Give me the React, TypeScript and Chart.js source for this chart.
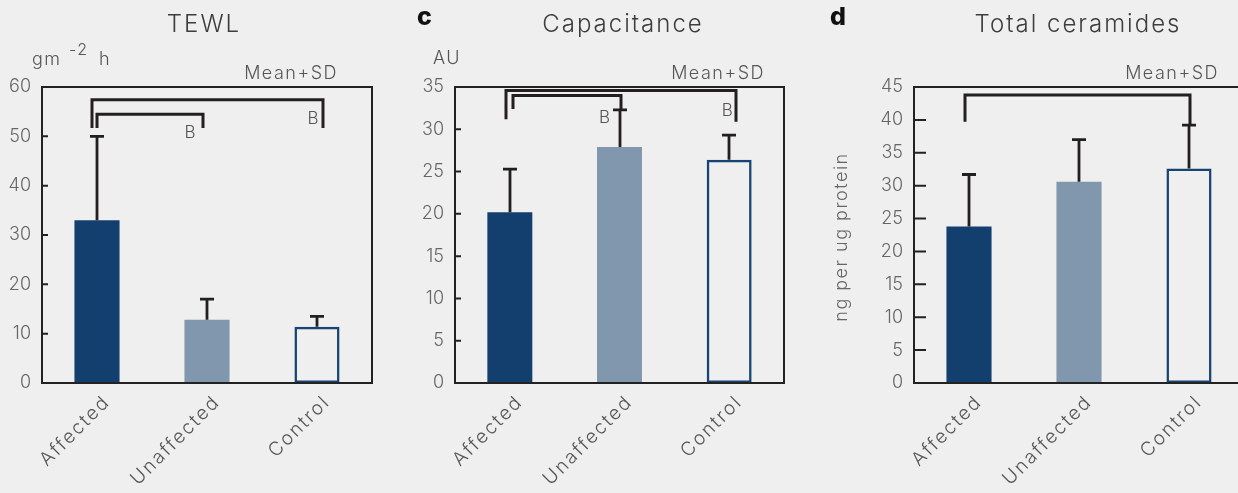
import React, { useEffect, useRef } from 'react';
import { Chart, registerables } from 'chart.js';

Chart.register(...registerables);

// ---------------- data ----------------
const categories = ['Affected', 'Unaffected', 'Control'];

const tewlMeans = [33.0, 12.8, 11.4];
const tewlSDs = [17.0, 4.2, 2.1];
const tewlAxis = { max: 60, step: 10 };

const capMeans = [20.2, 27.9, 26.4];
const capSDs = [5.1, 4.4, 2.9];
const capAxis = { max: 35, step: 5 };

const ceramideMeans = [23.8, 30.6, 32.6];
const ceramideSDs = [7.9, 6.4, 6.6];
const ceramideAxis = { max: 45, step: 5 };

// significance brackets (category indices, value levels)
const tewlBrackets = [
  { from: 0, to: 2, top: 57.4, leftEnd: 51.7, rightEnd: 51.7, dxL: -5, dxR: 6 },
  { from: 0, to: 1, top: 54.5, leftEnd: 51.7, rightEnd: 51.7, dxL: 0, dxR: -4 },
];
const capBrackets = [
  { from: 0, to: 2, top: 34.6, leftEnd: 31.2, rightEnd: 30.9, dxL: -4, dxR: 7 },
  { from: 0, to: 1, top: 34.0, leftEnd: 32.4, rightEnd: 32.3, dxL: 3, dxR: 1 },
];
const ceramideBrackets = [
  { from: 0, to: 2, top: 43.8, leftEnd: 39.7, rightEnd: 39.2, dxL: -4, dxR: 1 },
];

const tewlLetters = [
  { cat: 1, value: 50.7, text: 'B', dx: -17 },
  { cat: 2, value: 53.5, text: 'B', dx: -4 },
];
const capLetters = [
  { cat: 1, value: 31.4, text: 'B', dx: -15 },
  { cat: 2, value: 32.2, text: 'B', dx: -2 },
];

// ---------------- styles ----------------
const BG = '#eeefee';
const DARK = '#123f6d';
const LIGHT = '#8197ad';
const OUTLINE = '#174474';
const INK = '#231f20';
const FONT = 'Inter';
const HEIGHT = 493;

type Panel = {
  key: string;
  left: number;
  width: number;
  yAxisWidth: number;
  padRight: number;
  tickLen: number;
  means: number[];
  sds: number[];
  axis: { max: number; step: number };
  brackets: any[];
  letters: any[];
  title: string;
  titleX: number;
  letter?: string;
  letterX?: number;
  meanSdX: number;
  unit?: 'gm' | 'AU';
  yTitle?: string;
};

const panels: Panel[] = [
  {
    key: 'tewl', left: 0, width: 410, yAxisWidth: 42, padRight: 38, tickLen: 6,
    means: tewlMeans, sds: tewlSDs, axis: tewlAxis, brackets: tewlBrackets, letters: tewlLetters,
    title: 'TEWL', titleX: 204, meanSdX: 338, unit: 'gm',
  },
  {
    key: 'cap', left: 410, width: 410, yAxisWidth: 45, padRight: 36, tickLen: 6,
    means: capMeans, sds: capSDs, axis: capAxis, brackets: capBrackets, letters: capLetters,
    title: 'Capacitance', titleX: 213, letter: 'c', letterX: 7, meanSdX: 355, unit: 'AU',
  },
  {
    key: 'cer', left: 820, width: 430, yAxisWidth: 94, padRight: 6, tickLen: 12,
    means: ceramideMeans, sds: ceramideSDs, axis: ceramideAxis, brackets: ceramideBrackets, letters: [],
    title: 'Total ceramides', titleX: 258, letter: 'd', letterX: 10, meanSdX: 399,
    yTitle: 'ng per ug protein',
  },
];

function drawText(
  ctx: CanvasRenderingContext2D, s: string, x: number, y: number,
  font: string, color: string, align: CanvasTextAlign = 'left',
  baseline: CanvasTextBaseline = 'alphabetic', spacing = '0px', rot = 0,
) {
  ctx.save();
  ctx.translate(x, y);
  if (rot) ctx.rotate(rot);
  ctx.font = font;
  ctx.fillStyle = color;
  ctx.textAlign = align;
  ctx.textBaseline = baseline;
  (ctx as any).letterSpacing = spacing;
  ctx.fillText(s, 0, 0);
  ctx.restore();
}

function makePlugin(p: Panel) {
  return {
    id: 'decor_' + p.key,
    afterDraw(chart: any) {
      const ctx: CanvasRenderingContext2D = chart.ctx;
      const { left, right, top, bottom } = chart.chartArea;
      const xs = chart.scales.x;
      const ys = chart.scales.y;
      ctx.save();

      // error bars
      ctx.strokeStyle = INK;
      ctx.lineWidth = 2.8;
      ctx.lineCap = 'butt';
      p.means.forEach((m, i) => {
        const cx = Math.round(xs.getPixelForValue(i));
        const y0 = ys.getPixelForValue(m);
        const y1 = ys.getPixelForValue(m + p.sds[i]);
        ctx.beginPath();
        ctx.moveTo(cx, y0);
        ctx.lineTo(cx, y1);
        ctx.moveTo(cx - 7, y1);
        ctx.lineTo(cx + 7, y1);
        ctx.stroke();
      });

      // brackets
      ctx.lineWidth = 3;
      ctx.lineJoin = 'miter';
      p.brackets.forEach((b) => {
        const xL = Math.round(xs.getPixelForValue(b.from)) + b.dxL;
        const xR = Math.round(xs.getPixelForValue(b.to)) + b.dxR;
        const yT = ys.getPixelForValue(b.top);
        ctx.beginPath();
        ctx.moveTo(xL, ys.getPixelForValue(b.leftEnd));
        ctx.lineTo(xL, yT);
        ctx.lineTo(xR, yT);
        ctx.lineTo(xR, ys.getPixelForValue(b.rightEnd));
        ctx.stroke();
      });

      // letters
      p.letters.forEach((l) => {
        drawText(ctx, l.text, xs.getPixelForValue(l.cat) + l.dx, ys.getPixelForValue(l.value),
          `300 17px ${FONT}`, '#555', 'center', 'middle');
      });

      // frame
      ctx.strokeStyle = '#222';
      ctx.lineWidth = 2;
      ctx.strokeRect(left, top, right - left, bottom - top);

      // y ticks (inward)
      ctx.beginPath();
      ys.ticks.forEach((t: any) => {
        const py = ys.getPixelForValue(t.value);
        ctx.moveTo(left, py);
        ctx.lineTo(left + p.tickLen, py);
      });
      ctx.stroke();

      // category labels, rotated
      categories.forEach((c, i) => {
        const cx = xs.getPixelForValue(i);
        drawText(ctx, c, cx + 10, bottom + 16, `300 19px ${FONT}`, '#555', 'right', 'middle', '2px', -Math.PI / 4);
      });

      // title
      drawText(ctx, p.title, p.titleX, 32, `300 24px ${FONT}`, '#3d3d3d', 'center', 'alphabetic', '2px');

      // panel letter
      if (p.letter) {
        drawText(ctx, p.letter, p.letterX!, 25, `800 25px ${FONT}`, '#111', 'left');
      }

      // Mean+SD
      drawText(ctx, 'Mean+SD', p.meanSdX, 79, `300 18px ${FONT}`, '#555', 'right', 'alphabetic', '1.5px');

      // units
      if (p.unit === 'gm') {
        drawText(ctx, 'gm', 32, 65, `300 18px ${FONT}`, '#555', 'left', 'alphabetic', '1.5px');
        drawText(ctx, '-2', 69, 55, `300 16px ${FONT}`, '#555', 'left', 'alphabetic', '1.5px');
        drawText(ctx, 'h', 99, 65, `300 18px ${FONT}`, '#555', 'left', 'alphabetic', '1.5px');
      } else if (p.unit === 'AU') {
        drawText(ctx, 'AU', 23, 64, `300 18px ${FONT}`, '#555', 'left', 'alphabetic', '1.5px');
      }
      if (p.yTitle) {
        drawText(ctx, p.yTitle, 22, 237, `300 18px ${FONT}`, '#666', 'center', 'middle', '1.5px', -Math.PI / 2);
      }
      ctx.restore();
    },
  };
}

function PanelChart({ p }: { p: Panel }) {
  const ref = useRef<HTMLCanvasElement>(null);
  useEffect(() => {
    const chart = new Chart(ref.current!, {
      type: 'bar',
      data: {
        labels: categories,
        datasets: [
          {
            data: p.means,
            backgroundColor: [DARK, LIGHT, 'rgba(0,0,0,0)'],
            borderColor: [DARK, LIGHT, OUTLINE],
            borderWidth: [0, 0, 2.5],
            borderSkipped: false,
            categoryPercentage: 1,
            barPercentage: 0.41,
          } as any,
        ],
      },
      options: {
        animation: false,
        responsive: false,
        maintainAspectRatio: false,
        events: [],
        layout: { padding: { top: 87, right: p.padRight, left: 0, bottom: 0 } },
        plugins: { legend: { display: false }, tooltip: { enabled: false }, title: { display: false } },
        scales: {
          x: {
            type: 'category',
            offset: true,
            grid: { display: false, drawTicks: false },
            border: { display: false },
            ticks: { display: false },
            afterFit: (s: any) => {
              s.height = HEIGHT - 383;
              s.paddingLeft = 0;
              s.paddingRight = 0;
            },
          },
          y: {
            min: 0,
            max: p.axis.max,
            grid: { display: false, drawTicks: false },
            border: { display: false },
            ticks: {
              stepSize: p.axis.step,
              padding: 11,
              color: '#666',
              font: { family: FONT, size: 18, weight: 300 as any },
            },
            afterFit: (s: any) => {
              s.width = p.yAxisWidth;
            },
          },
        },
      },
      plugins: [makePlugin(p)],
    });
    return () => chart.destroy();
  }, [p]);
  return (
    <canvas
      ref={ref}
      width={p.width}
      height={HEIGHT}
      style={{ position: 'absolute', left: p.left, top: 0, width: p.width, height: HEIGHT }}
    />
  );
}

export default function App() {
  return (
    <div
      style={{
        position: 'fixed', left: 0, top: 0, width: 1238, height: HEIGHT,
        overflow: 'hidden', background: BG,
      }}
    >
      {panels.map((p) => (
        <PanelChart key={p.key} p={p} />
      ))}
    </div>
  );
}
